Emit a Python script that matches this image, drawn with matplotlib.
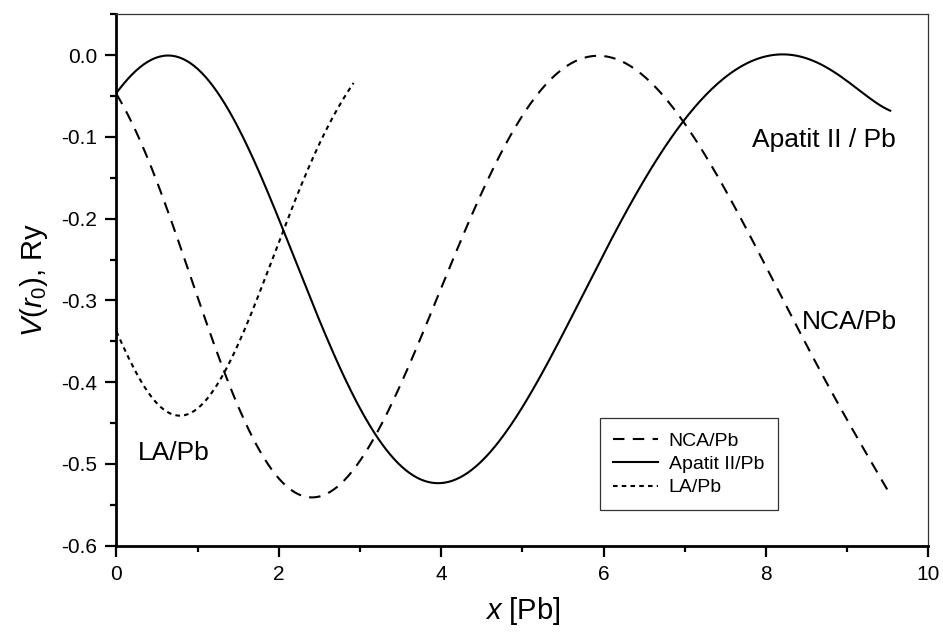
import matplotlib
matplotlib.use("Agg")
import matplotlib.pyplot as plt
from matplotlib.ticker import MultipleLocator
import numpy as np

plt.rcParams['font.family'] = ['Liberation Sans', 'DejaVu Sans']
plt.rcParams['mathtext.fontset'] = 'custom'
plt.rcParams['mathtext.rm'] = 'Liberation Sans'
plt.rcParams['mathtext.it'] = 'Liberation Sans:italic'

# values
nca_x = [0.0, 0.17, 0.45, 0.70, 0.95, 1.15, 1.32, 1.56, 1.81, 2.14, 2.38, 2.59, 2.88,
         3.20, 3.49, 3.74, 3.94, 4.07, 4.31, 4.52, 4.76, 4.97, 5.19, 5.46, 5.91, 6.32,
         6.73, 7.06, 7.39, 7.76, 8.25, 8.46, 8.87, 9.24, 9.53]
nca_y = [-0.047, -0.079, -0.144, -0.210, -0.278, -0.336, -0.389, -0.446, -0.491, -0.532,
         -0.540, -0.535, -0.512, -0.463, -0.401, -0.348, -0.300, -0.275, -0.210, -0.165,
         -0.112, -0.075, -0.047, -0.022, 0.0, -0.012, -0.051, -0.095, -0.144, -0.210,
         -0.305, -0.352, -0.422, -0.487, -0.538]

apatit_x = [0.0, 0.30, 0.63, 0.95, 1.27, 1.56, 1.81, 2.05, 2.30, 2.55, 2.92, 3.18, 3.53,
            3.96, 4.35, 4.76, 5.22, 5.46, 5.91, 6.32, 6.73, 6.98, 7.35, 7.80, 8.25, 8.87, 9.53]
apatit_y = [-0.047, -0.012, 0.0, -0.014, -0.055, -0.095, -0.153, -0.214, -0.275, -0.334,
            -0.422, -0.463, -0.504, -0.521, -0.512, -0.463, -0.393, -0.346, -0.267, -0.185,
            -0.112, -0.079, -0.042, -0.008, 0.0, -0.022, -0.068]

la_x = [0.0, 0.17, 0.33, 0.54, 0.76, 1.03, 1.19, 1.36, 1.52, 1.71, 2.05, 2.30, 2.51, 2.71, 2.92]
la_y = [-0.338, -0.373, -0.406, -0.430, -0.438, -0.430, -0.410, -0.385, -0.348, -0.304,
        -0.214, -0.153, -0.108, -0.067, -0.034]


def smooth(xs, ys, deg):
    # least squares polynomial through the read points, to iron out reading noise
    p = np.polynomial.Polynomial.fit(xs, ys, deg)
    xx = np.linspace(xs[0], xs[-1], 400)
    return xx, p(xx)


fig = plt.figure(figsize=(9.43, 6.33), dpi=100)
ax = fig.add_axes([0.1235, 0.1379, 0.861, 0.8395])

x1, y1 = smooth(nca_x, nca_y, 9)
x2, y2 = smooth(apatit_x, apatit_y, 9)
x3, y3 = smooth(la_x, la_y, 5)
ax.plot(x1, y1, color='black', lw=1.5, dashes=(5.5, 4), label='NCA/Pb')
ax.plot(x2, y2, color='black', lw=1.5, label='Apatit II/Pb')
ax.plot(x3, y3, color='black', lw=1.5, dashes=(2.2, 2), label='LA/Pb')

ax.set_xlim(0, 10)
ax.set_ylim(-0.6, 0.05)
ax.xaxis.set_major_locator(MultipleLocator(2))
ax.xaxis.set_minor_locator(MultipleLocator(1))
ax.yaxis.set_major_locator(MultipleLocator(0.1))
ax.yaxis.set_minor_locator(MultipleLocator(0.05))
ax.yaxis.set_major_formatter(plt.FuncFormatter(lambda v, p: f'{v:.1f}'.replace('-0.0', '0.0')))

for s in ('left', 'bottom'):
    ax.spines[s].set_linewidth(2)
for s in ('top', 'right'):
    ax.spines[s].set_linewidth(0.9)
    ax.spines[s].set_color('#333333')
ax.tick_params(which='major', direction='out', length=8, width=1.6, labelsize=15, pad=6)
ax.tick_params(which='minor', direction='out', length=4.5, width=1.6)

ax.set_xlabel('$x$ [Pb]', fontsize=21, labelpad=8)
ax.set_ylabel(r'$V(r_{\mathit{0}})$, Ry', fontsize=21, labelpad=8)

ax.text(8.71, -0.104, 'Apatit II / Pb', fontsize=19, ha='center', va='center')
ax.text(9.03, -0.326, 'NCA/Pb', fontsize=19, ha='center', va='center')
ax.text(0.71, -0.486, 'LA/Pb', fontsize=19, ha='center', va='center')

leg = ax.legend(loc='lower left', bbox_to_anchor=(0.595, 0.067), borderaxespad=0,
                fontsize=14, frameon=True, fancybox=False, edgecolor='black',
                handlelength=2.3, borderpad=0.7, labelspacing=0.3, handletextpad=0.55)
leg.get_frame().set_linewidth(0.9)

fig.savefig('out.png', dpi=100)
